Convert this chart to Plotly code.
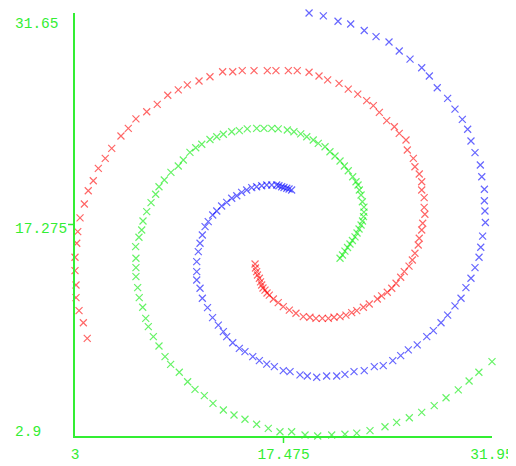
import plotly.graph_objects as go

# ---- data ----
red_x = [15.50, 15.53, 15.61, 15.67, 15.80, 15.88, 15.96, 16.05, 16.19, 16.33, 16.49, 16.77, 17.11, 17.46, 17.88,
         18.34, 18.85, 19.31, 19.73, 20.17, 20.59, 20.98, 21.40, 21.81, 22.21, 22.56, 23.02, 23.43, 23.99, 24.29,
         24.68, 24.99, 25.29, 25.61, 25.86, 26.19, 26.42, 26.60, 26.83, 26.90, 27.07, 27.14, 27.29, 27.24, 27.24,
         27.07, 27.07, 26.90, 26.60, 26.49, 26.07, 25.98, 25.51, 25.17, 24.64, 24.13, 23.71, 23.25, 22.63, 21.97,
         21.33, 20.54, 19.94, 19.25, 18.43, 17.81, 16.95, 16.35, 15.43, 14.61, 13.95, 13.25, 12.37, 11.61, 10.80,
         10.17, 9.44, 8.71, 7.98, 7.23, 6.70, 6.19, 5.55, 5.10, 4.62, 4.27, 3.92, 3.65, 3.35, 3.19,
         3.12, 3.00, 3.00, 3.07, 3.07, 3.28, 3.58, 3.85]
red_y = [14.59, 14.32, 14.07, 13.84, 13.62, 13.37, 13.16, 12.96, 12.82, 12.62, 12.48, 12.21, 11.96, 11.69, 11.46,
         11.24, 11.01, 10.97, 10.90, 10.90, 10.90, 10.97, 11.01, 11.12, 11.28, 11.42, 11.65, 11.87, 12.21, 12.42,
         12.67, 12.94, 13.28, 13.69, 14.07, 14.45, 14.86, 15.32, 15.88, 16.34, 16.90, 17.36, 17.97, 18.44, 19.10,
         19.62, 20.18, 20.71, 21.20, 21.77, 22.34, 23.02, 23.47, 23.92, 24.33, 24.90, 25.35, 25.69, 26.14, 26.48,
         26.87, 27.10, 27.37, 27.62, 27.73, 27.73, 27.73, 27.73, 27.73, 27.73, 27.66, 27.66, 27.32, 27.03, 26.76,
         26.42, 26.06, 25.44, 24.94, 24.45, 23.81, 23.29, 22.45, 21.77, 21.09, 20.25, 19.57, 18.67, 17.72, 16.79,
         16.00, 15.05, 14.14, 13.16, 12.30, 11.42, 10.60, 9.54]

green_x = [21.40, 21.57, 21.74, 21.92, 22.09, 22.26, 22.44, 22.58, 22.72, 22.86, 22.96, 23.03, 23.06, 23.06, 22.95,
           22.86, 22.74, 22.65, 22.51, 22.28, 21.97, 21.70, 21.40, 21.05, 20.70, 20.36, 19.89, 19.54, 19.09, 18.67,
           18.20, 17.74, 17.11, 16.66, 16.12, 15.61, 14.96, 14.41, 13.88, 13.30, 12.84, 12.37, 11.80, 11.38, 10.98,
           10.52, 10.17, 9.66, 9.20, 8.83, 8.60, 8.28, 7.98, 7.72, 7.63, 7.44, 7.21, 7.23, 7.23, 7.23,
           7.35, 7.46, 7.70, 7.91, 8.09, 8.44, 8.83, 9.25, 9.64, 10.24, 10.82, 11.33, 11.98, 12.58, 13.30,
           14.04, 14.80, 15.61, 16.42, 17.23, 18.04, 18.97, 19.85, 20.82, 21.74, 22.56, 23.48, 24.52, 25.33, 26.21,
           27.07, 27.94, 28.76, 29.61, 30.36, 31.04, 31.95]
green_y = [14.98, 15.20, 15.47, 15.71, 15.95, 16.19, 16.43, 16.70, 16.97, 17.24, 17.51, 17.81, 18.12, 18.46, 18.82,
           19.28, 19.62, 19.96, 20.18, 20.52, 20.93, 21.25, 21.59, 21.93, 22.22, 22.56, 22.79, 23.02, 23.24, 23.43,
           23.58, 23.70, 23.77, 23.81, 23.81, 23.81, 23.77, 23.65, 23.58, 23.41, 23.24, 23.05, 22.73, 22.49, 22.18,
           21.66, 21.25, 20.82, 20.30, 19.84, 19.33, 18.76, 18.15, 17.51, 16.90, 16.41, 15.77, 14.98, 14.34, 13.73,
           12.98, 12.30, 11.65, 10.90, 10.33, 9.65, 9.02, 8.29, 7.77, 7.23, 6.59, 6.07, 5.64, 5.12, 4.67,
           4.33, 4.04, 3.70, 3.42, 3.19, 3.19, 2.97, 2.90, 2.97, 3.02, 3.10, 3.26, 3.53, 3.83, 4.14,
           4.51, 4.96, 5.50, 6.03, 6.64, 7.23, 7.95]

blue_x = [18.04, 17.86, 17.70, 17.51, 17.35, 17.16, 17.00, 16.66, 16.31, 15.96, 15.61, 15.27, 14.92, 14.57, 14.23,
          13.88, 13.53, 13.18, 12.84, 12.56, 12.25, 12.03, 11.84, 11.68, 11.56, 11.45, 11.45, 11.45, 11.68, 11.84,
          12.20, 12.55, 12.95, 13.30, 13.53, 13.95, 14.41, 14.80, 15.34, 15.80, 16.31, 16.84, 17.46, 17.93, 18.62,
          19.13, 19.78, 20.47, 21.17, 21.74, 22.37, 23.08, 23.78, 24.40, 25.06, 25.61, 26.14, 26.76, 27.42, 27.88,
          28.41, 28.87, 29.38, 29.80, 30.14, 30.49, 30.77, 31.05, 31.17, 31.30, 31.49, 31.46, 31.42, 31.42, 31.24,
          31.14, 30.77, 30.49, 30.26, 29.89, 29.38, 28.87, 28.15, 27.60, 27.07, 26.26, 25.51, 24.80, 23.90, 23.08,
          22.14, 21.26, 20.24, 19.25]
blue_y = [19.62, 19.69, 19.74, 19.79, 19.84, 19.91, 19.96, 19.96, 19.96, 19.91, 19.84, 19.78, 19.62, 19.46, 19.23,
          19.06, 18.78, 18.53, 18.19, 17.92, 17.47, 17.13, 16.56, 16.00, 15.43, 14.75, 14.07, 13.50, 12.94, 12.26,
          11.63, 10.95, 10.44, 9.99, 9.65, 9.24, 8.86, 8.63, 8.29, 8.02, 7.79, 7.61, 7.34, 7.27, 7.05,
          6.98, 6.89, 6.98, 6.98, 7.09, 7.27, 7.34, 7.61, 7.68, 8.02, 8.36, 8.75, 9.09, 9.65, 10.06,
          10.60, 11.12, 11.74, 12.26, 12.98, 13.62, 14.34, 15.05, 15.73, 16.49, 17.41, 18.19, 18.89, 19.67, 20.52,
          21.32, 22.16, 22.95, 23.75, 24.42, 25.12, 25.85, 26.57, 27.37, 27.93, 28.52, 29.07, 29.68, 30.04, 30.46,
          30.90, 31.09, 31.45, 31.65]

x_ticks = [3, 17.475, 31.95]
x_tick_labels = ["3", "17.475", "31.95"]
y_ticks = [2.9, 17.275, 31.65]
y_tick_labels = ["2.9", "17.275", "31.65"]

AXIS = "#33ee33"
FONT = "Liberation Mono, Courier New, monospace"

fig = go.Figure()
for xs, ys, col in [(red_x, red_y, "rgba(255,0,0,0.6)"),
                    (green_x, green_y, "rgba(0,235,0,0.6)"),
                    (blue_x, blue_y, "rgba(0,0,255,0.6)")]:
    fig.add_trace(go.Scatter(x=xs, y=ys, mode="markers", cliponaxis=False,
                             marker=dict(symbol="x-thin-open", size=7, color=col,
                                         line=dict(color=col, width=1.2)),
                             showlegend=False, hoverinfo="skip"))

# the page body adds an 8px offset, so the figure is 8px smaller on the top/left
fig.update_layout(
    width=508, height=458,
    margin=dict(l=67, r=24, t=5, b=30, autoexpand=False),
    paper_bgcolor="white", plot_bgcolor="white",
    xaxis=dict(range=[x_ticks[0], x_ticks[-1]], tickvals=x_ticks, ticktext=x_tick_labels,
               showgrid=False, zeroline=False, showline=True, linecolor=AXIS, linewidth=1.5,
               ticks="", ticklabelstandoff=4, automargin=False, ticklabeloverflow="allow",
               tickfont=dict(family=FONT, size=14.5, color=AXIS)),
    yaxis=dict(range=[y_ticks[0], y_ticks[-1]], tickvals=y_ticks, showticklabels=False,
               showgrid=False, zeroline=False, showline=True, linecolor=AXIS, linewidth=1.5,
               ticks="", automargin=False),
)

# y tick labels (left aligned as in the reference)
for v, t, sh in zip(y_ticks, y_tick_labels, [4, -4, -11]):
    fig.add_annotation(x=-62 / 417, xref="paper", xanchor="left", y=v, yref="y",
                       yanchor="middle", yshift=sh, text=t, showarrow=False,
                       font=dict(family=FONT, size=14.5, color=AXIS))

# single middle tick marks
fig.add_shape(type="line", xref="x", yref="paper", x0=x_ticks[1], x1=x_ticks[1],
              y0=0, y1=-7 / 423, line=dict(color=AXIS, width=1.5))
fig.add_shape(type="line", xref="paper", yref="y", x0=-7 / 417, x1=0,
              y0=y_ticks[1], y1=y_ticks[1], line=dict(color=AXIS, width=1.5))

fig.write_html("out.html")
